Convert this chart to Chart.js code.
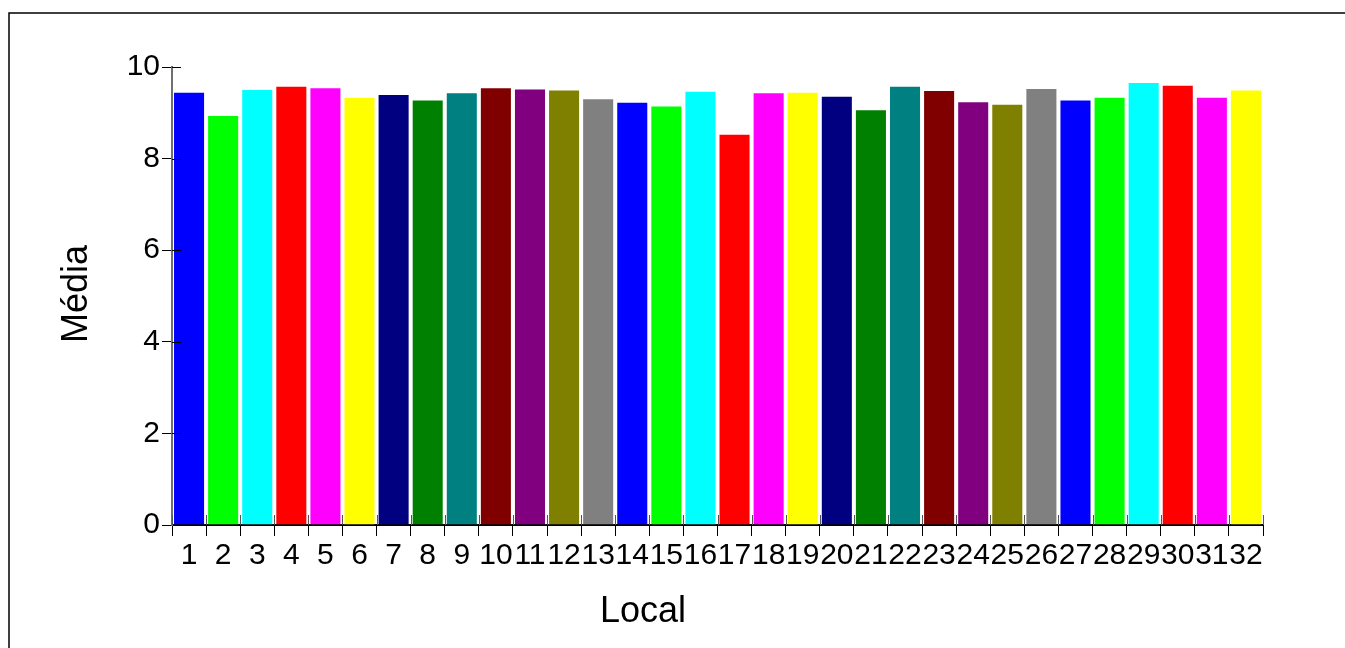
<!DOCTYPE html>
<html>
<head>
<meta charset="utf-8">
<script src="https://cdn.jsdelivr.net/npm/chart.js@4"></script>
<style>
html,body{margin:0;padding:0;background:#fff;}
#wrap{width:1345px;height:648px;position:relative;}
</style>
</head>
<body>
<div id="wrap"><canvas id="c" width="1345" height="648"></canvas></div>
<script>
const categories = ['1','2','3','4','5','6','7','8','9','10','11','12','13','14','15','16','17','18','19','20','21','22','23','24','25','26','27','28','29','30','31','32'];
const means = [9.46,8.95,9.52,9.59,9.56,9.35,9.41,9.29,9.45,9.56,9.53,9.51,9.32,9.24,9.16,9.48,8.54,9.45,9.46,9.37,9.08,9.59,9.50,9.25,9.20,9.54,9.29,9.35,9.67,9.61,9.35,9.51];
const yTicks = [0,2,4,6,8,10];
const xTitle = 'Local';
const yTitle = 'Média';

const palette = ['#0000FF','#00FF00','#00FFFF','#FF0000','#FF00FF','#FFFF00','#000080','#008000','#008080','#800000','#800080','#808000','#808080'];
const barColors = categories.map((c,i)=>palette[i % palette.length]);

Chart.defaults.font.family = "'Liberation Sans', Arial, sans-serif";
Chart.defaults.color = '#000';

const decor = {
  id:'decor',
  afterDraw(chart){
    const ctx = chart.ctx;
    const x = chart.scales.x, y = chart.scales.y;
    const ca = chart.chartArea;
    ctx.save();
    // outer frame
    ctx.strokeStyle = '#000';
    ctx.lineWidth = 1.5;
    ctx.beginPath();
    ctx.moveTo(9, 660); ctx.lineTo(9, 13); ctx.lineTo(1360, 13);
    ctx.stroke();
    // inward y ticks
    ctx.lineWidth = 1;
    ctx.strokeStyle = '#000';
    ctx.beginPath();
    yTicks.forEach(v=>{
      const py = Math.round(y.getPixelForValue(v)) + 0.5;
      if (v !== 0) { ctx.moveTo(ca.left, py); ctx.lineTo(ca.left + 9, py); }
    });
    ctx.stroke();
    // inward x ticks at category boundaries
    ctx.strokeStyle = '#555';
    ctx.beginPath();
    for (let i = 0; i <= categories.length; i++) {
      const px = Math.round(x.getPixelForValue(i - 0.5)) + 0.5;
      ctx.moveTo(px, ca.bottom); ctx.lineTo(px, ca.bottom - 10);
    }
    ctx.stroke();
    // titles
    ctx.fillStyle = '#000';
    ctx.font = "36px 'Liberation Sans', Arial, sans-serif";
    ctx.textAlign = 'center';
    ctx.textBaseline = 'middle';
    ctx.fillText(xTitle, 643, 612);
    ctx.translate(77, 294);
    ctx.rotate(-Math.PI/2);
    ctx.fillText(yTitle, 0, 0);
    ctx.restore();
  }
};

new Chart(document.getElementById('c'), {
  type:'bar',
  data:{
    labels: categories,
    datasets:[{
      data: means,
      backgroundColor: barColors,
      borderColor: 'rgba(255,255,255,0.35)',
      borderWidth: 1,
      barPercentage: 0.94,
      categoryPercentage: 1
    }]
  },
  options:{
    responsive:false,
    animation:false,
    devicePixelRatio:1,
    layout:{padding:{left:0, top:67, right:82, bottom:0}},
    plugins:{legend:{display:false}, tooltip:{enabled:false}},
    scales:{
      x:{
        offset:true,
        afterFit(s){ s.height = 123; },
        grid:{offset:true, drawOnChartArea:false, drawTicks:true, tickLength:11, tickColor:'#000', lineWidth:1},
        border:{display:true, color:'#000', width:2},
        ticks:{autoSkip:false, maxRotation:0, minRotation:0, padding:2, font:{size:30}, color:'#000'}
      },
      y:{
        min:0, max:10,
        afterFit(s){ s.width = 172; },
        afterBuildTicks(s){ s.ticks = yTicks.map(v=>({value:v})); },
        grid:{drawOnChartArea:false, drawTicks:true, tickLength:10, tickColor:'#000', lineWidth:1},
        border:{display:true, color:'#707070', width:2},
        ticks:{padding:2, font:{size:30}, color:'#000'}
      }
    }
  },
  plugins:[decor]
});
</script>
</body>
</html>
